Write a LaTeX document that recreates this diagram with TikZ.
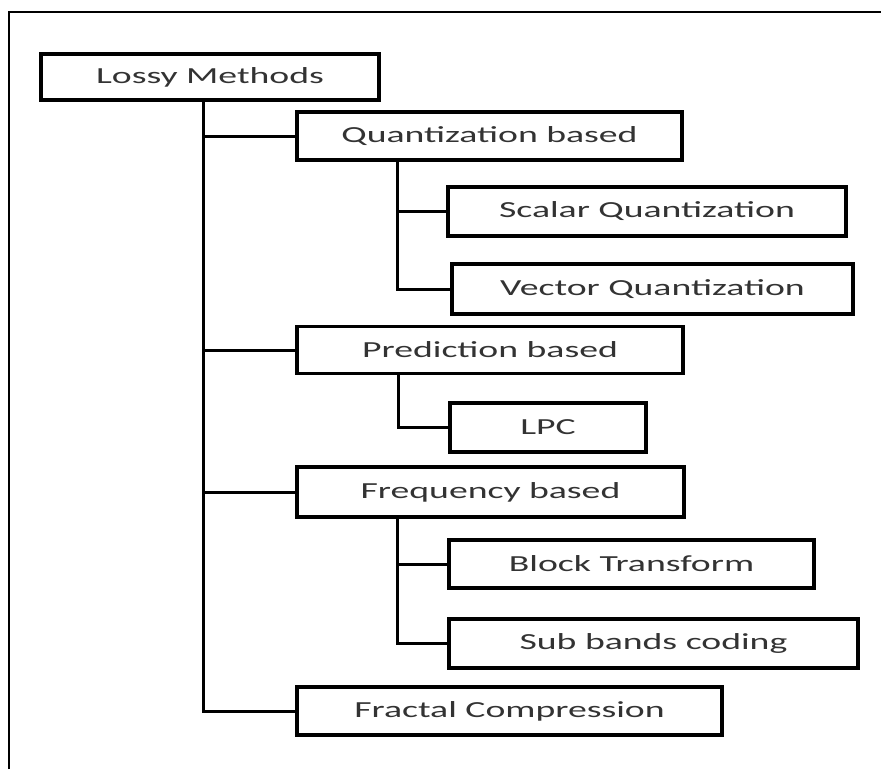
\documentclass[tikz,border=0pt]{standalone}
\usepackage{fontspec}
\usepackage{graphicx}
\setmainfont{Carlito}
\newcommand{\wide}[1]{\scalebox{1.64}[1]{#1}}
\begin{document}
\begin{tikzpicture}[x=1pt,y=-1pt,
  box/.style={draw=black, line width=3.4pt, fill=white, inner sep=0pt,
    font=\fontsize{23}{27}\selectfont, text=black!80},
  conn/.style={draw=black, line width=3pt},
  frameline/.style={draw=black, line width=2.6pt}]
\useasboundingbox (0,0) rectangle (881,769);
% outer frame
\coordinate (fbl) at (9,769);
\coordinate (ftl) at (9,12);
\coordinate (ftr) at (881,12);
\draw[frameline] (fbl) -- (ftl) -- (ftr);
% trunk coordinates
\coordinate (t) at (203,0);
\coordinate (s1) at (397,0);
\coordinate (s2) at (398,0);
\coordinate (s3) at (397,0);
% connectors (drawn first, boxes cover their ends)
\coordinate (lossyb) at (203,100);
% nodes
\node[box, minimum width=338pt, minimum height=46pt] (lossy) at (210,77) {\wide{Lossy Methods}};
\node[box, minimum width=385pt, minimum height=48pt] (qz) at (489.5,136) {\wide{Quantization based}};
\node[box, minimum width=398pt, minimum height=49pt] (sq) at (647,211.5) {\wide{Scalar Quantization}};
\node[box, minimum width=401pt, minimum height=50pt] (vq) at (652.5,289) {\wide{Vector Quantization}};
\node[box, minimum width=386pt, minimum height=47pt] (pr) at (490,350) {\wide{Prediction based}};
\node[box, minimum width=196pt, minimum height=49pt] (lpc) at (548,427.5) {\wide{LPC}};
\node[box, minimum width=387pt, minimum height=50pt] (fr) at (490.5,492) {\wide{Frequency based}};
\node[box, minimum width=365pt, minimum height=48pt] (bt) at (631.5,564) {\wide{Block Transform}};
\node[box, minimum width=409pt, minimum height=49pt] (sb) at (653.5,643.5) {\wide{Sub bands coding}};
\node[box, minimum width=425pt, minimum height=48pt] (fc) at (509.5,711) {\wide{Fractal Compression}};
% main trunk
\draw[conn] (lossy.south -| t) |- (fc.west);
\draw[conn] (t |- qz.west) -- (qz.west);
\draw[conn] (t |- pr.west) -- (pr.west);
\draw[conn] (t |- fr.west) -- (fr.west);
% quantization branch
\draw[conn] (qz.south -| s1) |- (vq.west);
\draw[conn] (s1 |- sq.west) -- (sq.west);
% prediction branch
\draw[conn] (pr.south -| s2) |- (lpc.west);
% frequency branch
\draw[conn] (fr.south -| s3) |- (sb.west);
\draw[conn] (s3 |- bt.west) -- (bt.west);
\end{tikzpicture}
\end{document}
